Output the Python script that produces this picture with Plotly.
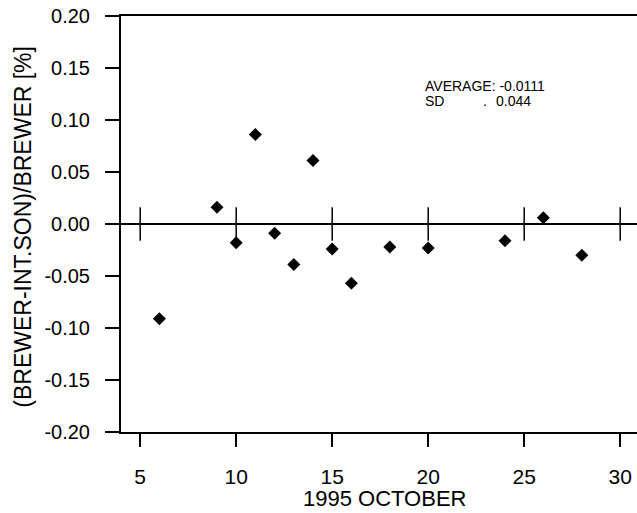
import plotly.graph_objects as go

# Data
days = [6, 9, 10, 11, 12, 13, 14, 15, 16, 18, 20, 24, 26, 28]
diff_pct = [-0.091, 0.016, -0.018, 0.086, -0.009, -0.039, 0.061, -0.024,
            -0.057, -0.022, -0.023, -0.016, 0.006, -0.030]
x_ticks = [5, 10, 15, 20, 25, 30]
y_ticks = [-0.20, -0.15, -0.10, -0.05, 0.00, 0.05, 0.10, 0.15, 0.20]
y_tick_text = ["-0.20", "-0.15", "-0.10", "-0.05", "0.00", "0.05", "0.10", "0.15", "0.20"]
avg_text = "AVERAGE: -0.0111"
sd_label = "SD"
sd_value = "0.044"

FONT = "Liberation Sans, Arial, sans-serif"

fig = go.Figure()
fig.add_trace(go.Scatter(
    x=days, y=diff_pct, mode="markers",
    marker=dict(symbol="diamond", size=10, color="black", line=dict(width=0)),
    showlegend=False, hoverinfo="x+y",
))

# vertical marks across the zero line at the major x ticks
for xv in x_ticks:
    fig.add_shape(type="line", xref="x", yref="y", x0=xv, x1=xv, y0=-0.016, y1=0.016,
                  line=dict(color="black", width=1.5))

fig.update_layout(
    width=637, height=513,
    margin=dict(l=121, r=0, t=16, b=81),
    paper_bgcolor="white", plot_bgcolor="white",
    font=dict(family=FONT, color="black"),
    xaxis=dict(
        range=[4, 4 + 516 / 19.2], tickvals=x_ticks, ticktext=[str(v) for v in x_ticks],
        showgrid=False, zeroline=False,
        showline=True, linecolor="black", linewidth=2, mirror=True,
        ticks="outside", ticklen=13, tickwidth=2, tickcolor="black",
        tickfont=dict(size=21, family=FONT), ticklabelstandoff=12,
    ),
    yaxis=dict(
        range=[-0.20, 0.20], tickvals=y_ticks, ticktext=y_tick_text,
        showgrid=False, zeroline=True, zerolinecolor="black", zerolinewidth=1.5,
        showline=True, linecolor="black", linewidth=2,
        ticks="outside", ticklen=14, tickwidth=2, tickcolor="black",
        tickfont=dict(size=20, family=FONT), ticklabelstandoff=11,
    ),
    annotations=[
        dict(text="(BREWER-INT.SON)/BREWER [%]", xref="paper", yref="paper",
             x=-0.19, y=0.4935, xanchor="center", yanchor="middle", textangle=-90,
             showarrow=False, font=dict(size=23, family=FONT)),
        dict(text="1995 OCTOBER", xref="paper", yref="paper",
             x=0.5116, y=-0.160, xanchor="center", yanchor="middle",
             showarrow=False, font=dict(size=22, family=FONT)),
        dict(text=avg_text, xref="x", yref="y", x=19.73, y=0.1327,
             xanchor="left", yanchor="middle", showarrow=False,
             font=dict(size=14, family=FONT)),
        dict(text=sd_label, xref="x", yref="y", x=19.73, y=0.1178,
             xanchor="left", yanchor="middle", showarrow=False,
             font=dict(size=14, family=FONT)),
        dict(text=".", xref="x", yref="y", x=22.75, y=0.1178,
             xanchor="left", yanchor="middle", showarrow=False,
             font=dict(size=14, family=FONT)),
        dict(text=sd_value, xref="x", yref="y", x=23.41, y=0.1178,
             xanchor="left", yanchor="middle", showarrow=False,
             font=dict(size=14, family=FONT)),
    ],
)

fig.write_html("out.html")
